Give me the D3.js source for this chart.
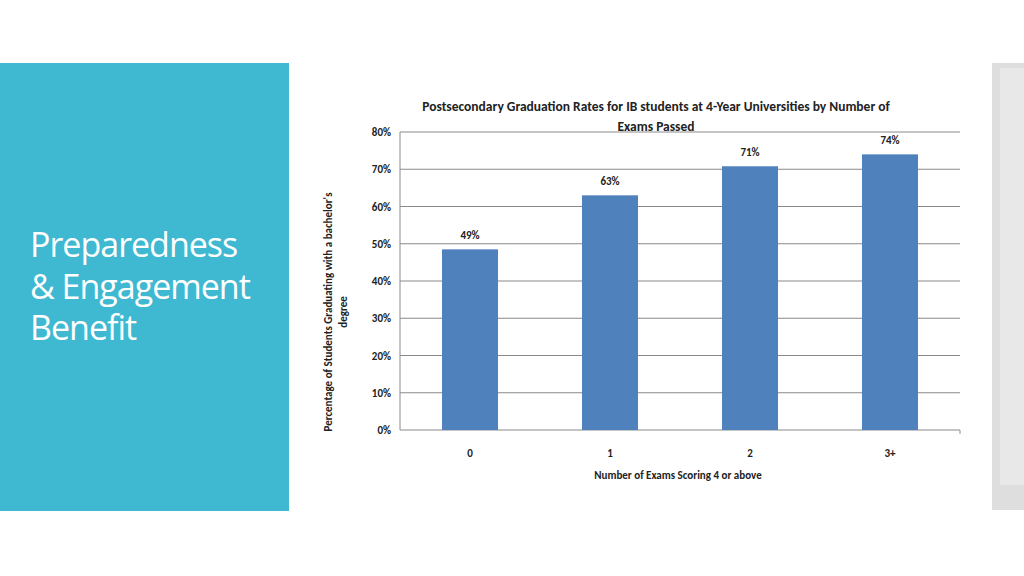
<!DOCTYPE html>
<html lang="en">
<head>
<meta charset="UTF-8">
<script src="https://d3js.org/d3.v7.min.js"></script>
<style>
  body { margin: 0; background: white; }
  svg { display: block; font-family: Calibri, Carlito, "Open Sans", sans-serif; }
</style>
</head>
<body>
<svg width="1024" height="576"></svg>
<script>
  const categories = ["0", "1", "2", "3+"];
  const values = [48.5, 63, 70.8, 74];
  const labels = ["49%", "63%", "71%", "74%"];
  const yTicks = [0, 10, 20, 30, 40, 50, 60, 70, 80];

  const svg = d3.select("svg");

  // teal side panel
  svg.append("rect").attr("x", 0).attr("y", 63).attr("width", 289).attr("height", 448).attr("fill", "#3fb8d1");
  ["Preparedness", "& Engagement", "Benefit"].forEach((t, i) => {
    svg.append("text").attr("x", 30).attr("y", 257 + i * 41.5)
      .attr("fill", "white").attr("font-size", 34).attr("font-family", "Open Sans, sans-serif")
      .attr("letter-spacing", -1).text(t);
  });

  // gray strip on the right
  svg.append("rect").attr("x", 992).attr("y", 63).attr("width", 32).attr("height", 447).attr("fill", "#dedede");
  svg.append("rect").attr("x", 1000).attr("y", 68).attr("width", 24).attr("height", 417).attr("fill", "#e8e8e8");

  const x = d3.scaleBand().domain(categories).range([400, 960]).paddingInner(0.6).paddingOuter(0.3);
  const y = d3.scaleLinear().domain([0, 80]).range([430, 132]);

  const g = svg.append("g");
  g.selectAll("line.grid").data(yTicks).join("line")
    .attr("x1", 400).attr("x2", 960).attr("y1", d => y(d)).attr("y2", d => y(d))
    .attr("stroke", "#8a8a8a").attr("stroke-width", 1);
  g.append("line").attr("x1", 400).attr("x2", 400).attr("y1", y(80)).attr("y2", y(0)).attr("stroke", "#8a8a8a");
  g.append("line").attr("x1", 960).attr("x2", 960).attr("y1", y(0)).attr("y2", y(0) + 4).attr("stroke", "#8a8a8a");

  g.selectAll("text.yt").data(yTicks).join("text")
    .attr("x", 391).attr("y", d => y(d) + 4).attr("text-anchor", "end")
    .attr("font-size", 11).attr("font-weight", "bold").attr("fill", "#222").text(d => d + "%");

  g.selectAll("rect.bar").data(values).join("rect")
    .attr("x", (d, i) => x(categories[i])).attr("width", x.bandwidth())
    .attr("y", d => y(d)).attr("height", d => y(0) - y(d)).attr("fill", "#4f81bd");

  g.selectAll("text.lab").data(values).join("text")
    .attr("x", (d, i) => x(categories[i]) + x.bandwidth() / 2).attr("y", d => y(d) - 10)
    .attr("text-anchor", "middle").attr("font-size", 11).attr("font-weight", "bold").attr("fill", "#222")
    .text((d, i) => labels[i]);

  g.selectAll("text.xt").data(categories).join("text")
    .attr("x", d => x(d) + x.bandwidth() / 2).attr("y", 457)
    .attr("text-anchor", "middle").attr("font-size", 11).attr("font-weight", "bold").attr("fill", "#222").text(d => d);

  svg.append("text").attr("x", 678).attr("y", 479).attr("text-anchor", "middle")
    .attr("font-size", 11).attr("font-weight", "bold").attr("fill", "#222").text("Number of Exams Scoring 4 or above");

  svg.append("text").attr("x", 656).attr("y", 111).attr("text-anchor", "middle")
    .attr("font-size", 13.5).attr("font-weight", "bold").attr("fill", "#222")
    .text("Postsecondary Graduation Rates for IB students at 4-Year Universities by Number of");
  svg.append("text").attr("x", 656).attr("y", 131).attr("text-anchor", "middle")
    .attr("font-size", 13.5).attr("font-weight", "bold").attr("fill", "#222").text("Exams Passed");

  const yl = svg.append("text").attr("transform", "translate(332,312) rotate(-90)").attr("text-anchor", "middle")
    .attr("font-size", 11).attr("font-weight", "bold").attr("fill", "#222");
  yl.append("tspan").attr("x", 0).attr("dy", 0).text("Percentage of Students Graduating with a bachelor's");
  yl.append("tspan").attr("x", 0).attr("dy", 15).text("degree");
</script>
</body>
</html>
